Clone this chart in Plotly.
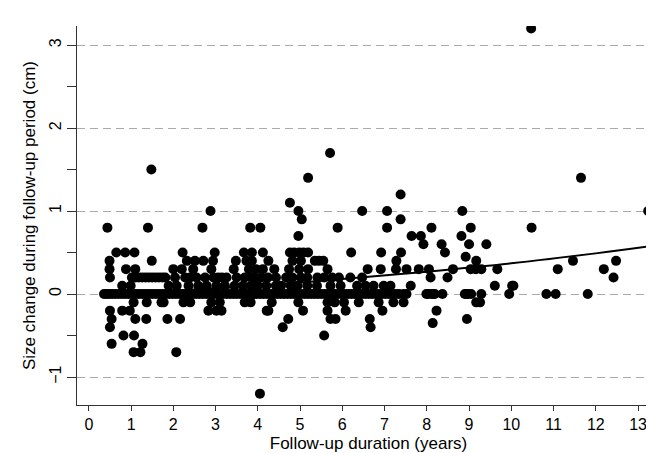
import plotly.graph_objects as go

# ---- data (follow-up years, size change in cm) ----
x_0 = [0.36, 0.42, 0.48, 0.55, 0.62, 0.70, 0.78, 0.86, 0.94, 1.02, 1.10, 1.18, 1.26, 1.34,
       1.42, 1.50, 1.58, 1.66, 1.74, 1.82, 1.90, 1.98, 2.06, 2.14, 2.22, 2.30, 2.38, 2.46,
       2.54, 2.62, 2.70, 2.78, 2.86, 2.94, 3.02, 3.10, 3.18, 3.26, 3.34, 3.42, 3.50, 3.58,
       3.66, 3.74, 3.82, 3.90, 3.98, 4.06, 4.14, 4.22, 4.30, 4.38, 4.46, 4.54, 4.62, 4.70,
       4.78, 4.86, 4.94, 5.02, 5.10, 5.18, 5.26, 5.34, 5.42, 5.50, 5.58, 5.66, 5.74, 5.82,
       5.90, 5.98, 6.06, 6.14, 6.22, 6.30, 6.38, 6.46, 6.54, 6.62, 6.70, 6.78, 6.86, 6.94,
       7.02, 7.10, 7.18, 7.26, 7.34, 7.45, 7.52, 7.99, 8.03, 8.11, 8.15, 8.19, 8.37, 8.90,
       8.94, 8.98, 9.05, 9.29, 9.95, 10.83, 11.05, 11.81]
x_p01 = [0.79, 0.99, 1.89, 2.08, 2.36, 2.59, 2.79, 3.02, 3.22, 3.45, 3.65, 3.84, 4.00, 4.20,
         4.43, 4.55, 4.78, 4.94, 5.17, 5.40, 5.72, 5.96, 6.35, 6.55, 6.74, 6.98, 7.14, 7.62,
         9.61, 10.02, 10.05]
x_p02 = [0.50, 1.02, 1.10, 1.18, 1.26, 1.34, 1.42, 1.50, 1.58, 1.66, 1.74, 1.81, 2.04, 2.28,
         2.40, 2.55, 2.75, 2.95, 3.06, 3.15, 3.26, 3.50, 3.69, 3.84, 3.92, 4.08, 4.24, 4.43,
         4.67, 4.82, 5.02, 5.17, 5.41, 5.57, 5.76, 5.92, 6.19, 6.47, 8.09, 8.49, 12.42]
x_p03 = [0.49, 0.88, 1.10, 2.00, 2.20, 2.47, 2.90, 3.43, 3.79, 3.96, 4.12, 4.39, 4.74, 4.98,
         5.19, 5.65, 6.60, 6.91, 7.27, 7.52, 7.81, 8.05, 8.62, 9.04, 9.16, 9.29, 9.67, 11.10,
         12.19]
x_p04 = [0.49, 1.49, 2.32, 2.51, 2.71, 2.94, 3.48, 3.73, 3.86, 4.25, 4.82, 5.02, 5.35, 5.45,
         5.55, 7.28, 9.17, 11.46, 12.48]
x_p05 = [0.65, 0.86, 1.08, 2.22, 2.98, 3.67, 3.86, 4.12, 4.76, 4.86, 4.98, 5.08, 5.19, 6.21,
         6.92, 7.39, 8.43]
x_n01 = [1.06, 1.37, 1.72, 1.77, 2.24, 2.40, 2.90, 3.10, 3.69, 3.83, 4.33, 4.96, 5.65, 5.82,
         6.04, 6.39, 6.86, 7.21, 7.45, 9.17, 9.26]
x_n02 = [0.50, 0.79, 0.97, 2.83, 3.02, 3.14, 4.21, 4.25, 5.07, 5.65, 6.08, 6.95, 8.23]
x_n03 = [0.54, 1.10, 1.36, 1.86, 2.16, 4.72, 5.72, 5.84, 6.65, 8.95]

# remaining individual points (x, y)
other_x = [8.92, 7.92, 8.35, 9.00, 9.41, 4.96, 7.64, 7.86, 8.82,
           0.44, 1.40, 2.69, 3.82, 4.06, 5.89, 7.06, 8.11, 9.04, 10.48,
           5.04, 7.38, 2.88, 4.96, 6.47, 7.06, 8.84, 13.24, 4.76, 7.38,
           5.19, 11.65, 1.48, 5.71, 10.47,
           8.14, 0.50, 4.59, 6.67, 0.82, 1.07, 5.57, 0.54, 1.27,
           1.06, 1.22, 2.07, 4.05]
other_y = [0.45, 0.6, 0.6, 0.6, 0.6, 0.7, 0.7, 0.7, 0.7,
           0.8, 0.8, 0.8, 0.8, 0.8, 0.8, 0.8, 0.8, 0.8, 0.8,
           0.9, 0.9, 1.0, 1.0, 1.0, 1.0, 1.0, 1.0, 1.1, 1.2,
           1.4, 1.4, 1.5, 1.7, 3.2,
           -0.35, -0.4, -0.4, -0.4, -0.5, -0.5, -0.5, -0.6, -0.6,
           -0.7, -0.7, -0.7, -1.2]

# fitted curve
fit_x = [0.4, 2, 4, 6, 8, 10, 12, 13.2]
fit_y = [0.0, 0.04, 0.10, 0.18, 0.27, 0.37, 0.49, 0.57]

x_ticks = list(range(0, 14))
y_ticks = [-1, 0, 1, 2, 3]
y_minor = [-0.5, 0.5, 1.5, 2.5]

levels = [(x_0, 0.0), (x_p01, 0.1), (x_p02, 0.2), (x_p03, 0.3), (x_p04, 0.4),
          (x_p05, 0.5), (x_n01, -0.1), (x_n02, -0.2), (x_n03, -0.3)]
xs, ys = [], []
for lx, lv in levels:
    xs += lx
    ys += [lv] * len(lx)
xs += other_x
ys += other_y

FONT = "Liberation Sans, Arial, sans-serif"
AX = "#333333"

fig = go.Figure()
fig.add_trace(go.Scatter(x=xs, y=ys, mode="markers",
                         marker=dict(size=10, color="black", line=dict(width=0)),
                         showlegend=False, hoverinfo="skip"))
fig.add_trace(go.Scatter(x=fit_x, y=fit_y, mode="lines",
                         line=dict(color="black", width=2, shape="spline"),
                         showlegend=False, hoverinfo="skip"))

fig.update_layout(
    width=654, height=453,
    margin=dict(l=69, r=2, t=18, b=56),
    paper_bgcolor="white", plot_bgcolor="white",
    font=dict(family=FONT, color="black", size=16),
    xaxis=dict(range=[-0.28, 13.52], tickvals=x_ticks, ticks="outside", ticklen=5,
               tickcolor=AX, showline=True, linecolor=AX, linewidth=1, automargin=False,
               showgrid=False, zeroline=False, tickfont=dict(size=16),
               title=dict(text="Follow-up duration (years)", font=dict(size=17), standoff=4)),
    yaxis=dict(range=[-1.337, 3.23], tickvals=y_ticks, ticks="outside", ticklen=9,
               tickcolor=AX, tickangle=-90, showline=True, linecolor=AX, linewidth=1,
               automargin=False,
               showgrid=True, gridcolor="#aaaaaa", griddash="8px,5px", gridwidth=1,
               zeroline=False, tickfont=dict(size=16),
               minor=dict(tickvals=y_minor, ticks="outside", ticklen=9, tickcolor=AX,
                          showgrid=False),
               title=dict(text="Size change during follow-up period (cm)",
                          font=dict(size=17), standoff=6)),
)

fig.write_html("out.html")
